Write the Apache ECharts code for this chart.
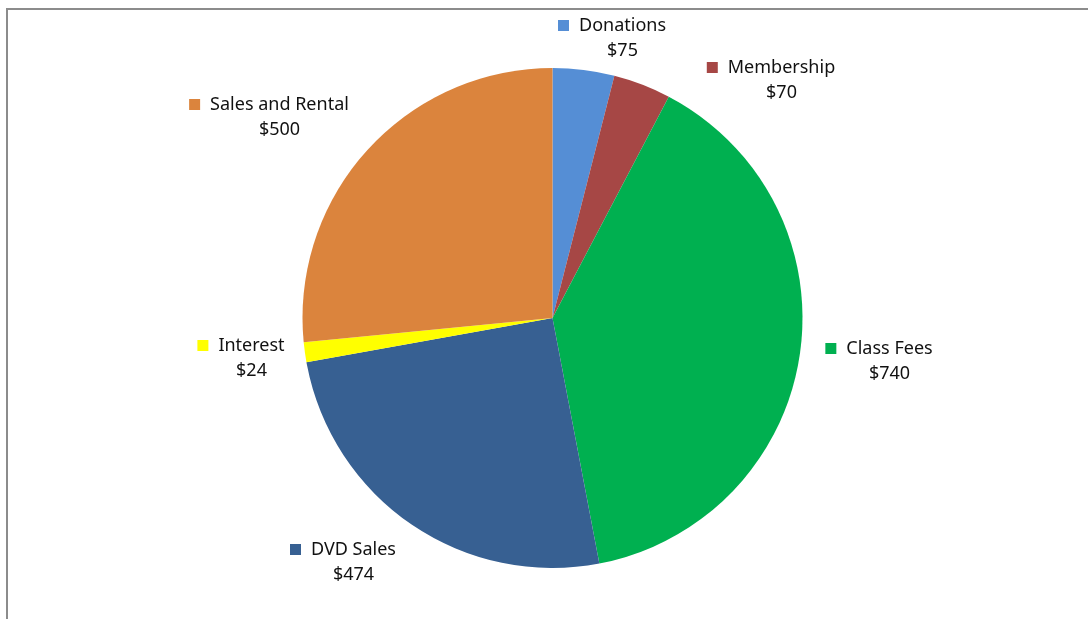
<!DOCTYPE html>
<html>
<head>
<meta charset="utf-8">
<script src="https://cdn.jsdelivr.net/npm/echarts@6/dist/echarts.min.js"></script>
<style>
  html, body { margin: 0; padding: 0; background: #fff; }
  #frame { position: absolute; left: 6px; top: 8px; width: 1082px; height: 611px;
           border-left: 2px solid #8c8c8c; border-top: 2px solid #8c8c8c; box-sizing: border-box; }
  #chart { position: absolute; left: 0; top: 0; width: 1088px; height: 619px; }
</style>
</head>
<body>
<div id="frame"></div>
<div id="chart"></div>
<script>
// slices, clockwise from 12 o'clock
const categories = ['Donations', 'Membership', 'Class Fees', 'DVD Sales', 'Interest', 'Sales and Rental']
const amounts = [75, 70, 740, 474, 24, 500]
const colors = ['#558ED5', '#A64745', '#00B050', '#376092', '#FFFF00', '#DB843D']

// label block centres (styling only)
const labelPos = [[612, 38], [771, 80], [879, 361], [343, 562], [241, 358], [269, 117]]

const chart = echarts.init(document.getElementById('chart'))

const textStyle = { fontSize: 18, color: '#111', fontFamily: 'Noto Sans', lineHeight: 25 }

const data = categories.map((name, i) => ({
    name: name,
    value: amounts[i],
    itemStyle: { color: colors[i] },
    label: {
        rich: {
            sq: { width: 11, height: 11, backgroundColor: colors[i] },
            gap: { width: 10 },
            pad: { width: 21 },
            n: textStyle,
            v: textStyle
        }
    }
}))

chart.setOption({
    animation: false,
    series: [
        {
            type: 'pie',
            center: [552.5, 318],
            radius: 250,
            startAngle: 90,
            clockwise: true,
            data: data,
            itemStyle: { borderWidth: 0 },
            labelLine: { show: false },
            label: {
                show: true,
                position: 'outside',
                align: 'center',
                fontSize: 18,
                fontFamily: 'Noto Sans',
                formatter: function (p) {
                    return '{sq|}{gap|}{n|' + p.name + '}\n{pad|}{v|$' + p.value + '}'
                }
            },
            labelLayout: function (params) {
                const pos = labelPos[params.dataIndex]
                return { x: pos[0], y: pos[1], align: 'center', verticalAlign: 'middle' }
            },
            emphasis: { disabled: true }
        }
    ]
})
</script>
</body>
</html>
